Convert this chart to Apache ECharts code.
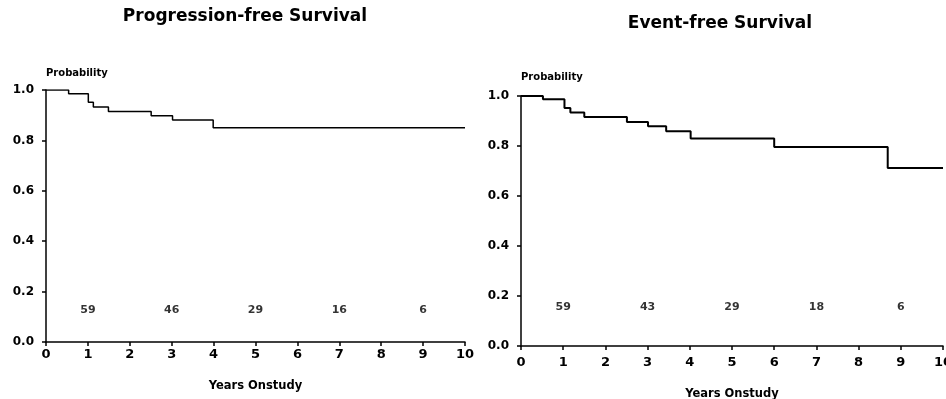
<!DOCTYPE html>
<html>
<head>
<meta charset="utf-8">
<script src="https://cdn.jsdelivr.net/npm/echarts@6/dist/echarts.min.js"></script>
<style>
  html, body { margin: 0; padding: 0; background: #fff; }
  #chart { width: 946px; height: 399px; }
</style>
</head>
<body>
<div id="chart"></div>
<script>
// progression-free survival (years, probability)
var pfsTimes = [0, 0.54, 1.01, 1.13, 1.49, 2.51, 3.02, 3.99, 10];
var pfsProb = [1.0, 0.985, 0.951, 0.933, 0.915, 0.898, 0.881, 0.85, 0.85];

// event-free survival
var efsTimes = [0, 0.52, 1.03, 1.17, 1.5, 2.51, 3.01, 3.44, 4.02, 6.0, 8.69, 10];
var efsProb = [1.0, 0.987, 0.952, 0.934, 0.916, 0.896, 0.879, 0.859, 0.83, 0.796, 0.712, 0.712];

// numbers at risk
var riskYears = [1, 3, 5, 7, 9];
var pfsRisk = ['59', '46', '29', '16', '6'];
var efsRisk = ['59', '43', '29', '18', '6'];

var font = '"DejaVu Sans", "Liberation Sans", sans-serif';

function pairs(xs, ys) {
	var out = [];
	for (var i = 0; i < xs.length; i++) out.push([xs[i], ys[i]]);
	return out;
}
function riskData(vals, y) {
	var out = [];
	for (var i = 0; i < riskYears.length; i++) out.push([riskYears[i], y, vals[i]]);
	return out;
}

function xAxisOpt(idx, labelMargin, nameGap) {
	return {
		gridIndex: idx, type: 'value', min: 0, max: 10, interval: 1,
		name: 'Years Onstudy', nameLocation: 'middle', nameGap: nameGap,
		nameTextStyle: { color: '#000', fontFamily: font, fontWeight: 'bold', fontSize: 11.5 },
		axisLine: { lineStyle: { color: '#000', width: 1.5 } },
		axisTick: { show: true, length: 4, lineStyle: { color: '#000', width: 1.5 } },
		axisLabel: { color: '#000', fontFamily: font, fontWeight: 'bold', fontSize: 13, margin: labelMargin },
		splitLine: { show: false }
	};
}
function yAxisOpt(idx, nameGap) {
	return {
		gridIndex: idx, type: 'value', min: 0, max: 1, interval: 0.2,
		name: 'Probability', nameLocation: 'end', nameGap: nameGap,
		nameTextStyle: { color: '#000', fontFamily: font, fontWeight: 'bold', fontSize: 10, align: 'left' },
		axisLine: { show: true, lineStyle: { color: '#000', width: 1.5 } },
		axisTick: { show: true, length: 4, lineStyle: { color: '#000', width: 1.5 } },
		axisLabel: { color: '#000', fontFamily: font, fontWeight: 'bold', fontSize: 12, margin: 12,
			formatter: function (v) { return v.toFixed(1); } },
		splitLine: { show: false }
	};
}
function riskSeries(idx, data) {
	return {
		type: 'scatter', xAxisIndex: idx, yAxisIndex: idx, data: data,
		symbolSize: 1, itemStyle: { color: 'rgba(0,0,0,0)' }, silent: true,
		label: { show: true, position: 'inside', color: '#000', fontFamily: font, fontWeight: 'bold', fontSize: 11,
			formatter: function (p) { return p.value[2]; } }
	};
}

var myChart = echarts.init(document.getElementById('chart'));
var option = {
	backgroundColor: '#fff',
	animation: false,
	title: [{
		text: 'Progression-free Survival', left: 245, top: 8, textAlign: 'center', padding: 0,
		textStyle: { color: '#000', fontFamily: font, fontWeight: 'bold', fontSize: 17 }
	}, {
		text: 'Event-free Survival', left: 720, top: 15, textAlign: 'center', padding: 0,
		textStyle: { color: '#000', fontFamily: font, fontWeight: 'bold', fontSize: 17 }
	}],
	grid: [
		{ left: 46, top: 90, width: 419, height: 252, outerBoundsMode: 'none' },
		{ left: 521, top: 96, width: 422, height: 250, outerBoundsMode: 'none' }
	],
	xAxis: [xAxisOpt(0, 6, 38), xAxisOpt(1, 10, 42)],
	yAxis: [yAxisOpt(0, 12), yAxisOpt(1, 14)],
	series: [{
		type: 'line', xAxisIndex: 0, yAxisIndex: 0, step: 'end',
		data: pairs(pfsTimes, pfsProb), showSymbol: false,
		lineStyle: { color: '#000', width: 1.5 }
	}, {
		type: 'line', xAxisIndex: 1, yAxisIndex: 1, step: 'end',
		data: pairs(efsTimes, efsProb), showSymbol: false,
		lineStyle: { color: '#000', width: 2 }
	},
	riskSeries(0, riskData(pfsRisk, 0.127)),
	riskSeries(1, riskData(efsRisk, 0.156))
	]
};
myChart.setOption(option);
</script>
</body>
</html>
